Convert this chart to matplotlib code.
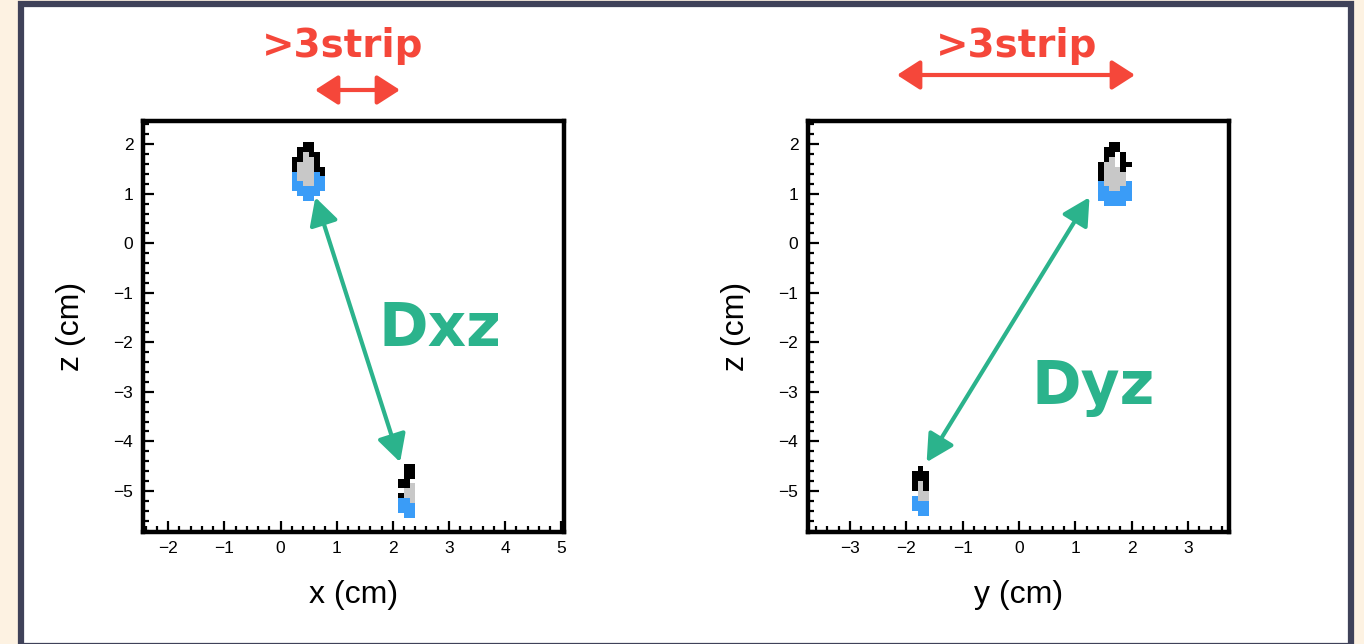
import numpy as np
import matplotlib
matplotlib.use("Agg")
import matplotlib.pyplot as plt
from matplotlib.colors import ListedColormap
from matplotlib.patches import FancyArrowPatch, Rectangle
from matplotlib.ticker import MultipleLocator

W, H = 1364, 644

# hit maps, 0.1 cm bins, rows listed from top (high z) down
# '#' = black, 'g' = gray, 'b' = blue, '.' = empty
xz_top_origin = (0.2, 2.05)
xz_top_rows = [
    "..##..",
    ".###..",
    ".#g##.",
    "##gg#.",
    "#ggg#.",
    "#ggg##",
    "bgggb#",
    "bgggbb",
    "bbggbb",
    "bbbbbb",
    ".bbbb.",
    "..bb..",
]
xz_bot_origin = (2.1, -4.45)
xz_bot_rows = [
    ".##",
    ".##",
    ".##",
    "##.",
    "##g",
    ".gg",
    "#gg",
    "bbg",
    "bbb",
    "bbb",
    ".bb",
]
yz_top_origin = (1.4, 2.05)
yz_top_rows = [
    "..##..",
    ".###..",
    ".##.#.",
    ".#g.#.",
    "#gg.##",
    "#ggg#.",
    "#gggg.",
    "#gggg.",
    "bggggb",
    "bbggbb",
    "bbbbbb",
    "bbbbbb",
    ".bbbb.",
]
yz_bot_origin = (-1.9, -4.5)
yz_bot_rows = [
    ".#.",
    "###",
    "###",
    "#g#",
    "#g#",
    ".gg",
    "bgg",
    "bbb",
    "bbb",
    ".bb",
]
bin_size = 0.1

# arrow end points in data coordinates
dxz_arrow = [(0.62, 0.93), (2.13, -4.42)]
dyz_arrow = [(1.25, 0.93), (-1.64, -4.42)]

RED = "#f5473a"
GREEN = "#2bb38c"
NAVY = "#3f4259"
levels = {"b": 1, "g": 2, "#": 3}
cmap = ListedColormap(["#3a9cf7", "#c8c8c8", "#000000"])


def fx(px):
    return px / W


def fy(py):
    return 1 - py / H


def draw_hits(ax, origin, rows):
    x0, ztop = origin
    nrow, ncol = len(rows), len(rows[0])
    vals = np.full((nrow, ncol), np.nan)
    for i, r in enumerate(rows):
        for j, c in enumerate(r):
            if c in levels:
                vals[i, j] = levels[c]
    xe = x0 + bin_size * np.arange(ncol + 1)
    ze = ztop - bin_size * np.arange(nrow + 1)
    ax.pcolormesh(xe, ze, np.ma.masked_invalid(vals), cmap=cmap, vmin=0.5, vmax=3.5)


def style_axes(ax, xlim, ylim, xlabel):
    ax.set_xlim(*xlim)
    ax.set_ylim(*ylim)
    for s in ax.spines.values():
        s.set_linewidth(3.2)
    ax.xaxis.set_major_locator(MultipleLocator(1))
    ax.xaxis.set_minor_locator(MultipleLocator(0.2))
    ax.yaxis.set_major_locator(MultipleLocator(1))
    ax.yaxis.set_minor_locator(MultipleLocator(0.2))
    ax.tick_params(which="both", direction="in", top=False, right=False, width=1.6,
                   labelsize=12.5, pad=7)
    ax.tick_params(which="major", length=8)
    ax.tick_params(which="minor", length=4.5)
    for lab in ax.get_xticklabels() + ax.get_yticklabels():
        lab.set_fontfamily("Liberation Sans")
    ax.set_xlabel(xlabel, fontsize=23, family="Liberation Sans", labelpad=17)
    ax.set_ylabel("z (cm)", fontsize=23, family="Liberation Sans", labelpad=20)


fig = plt.figure(figsize=(W / 100, H / 100), dpi=100)
fig.patch.set_facecolor("#fdf2e2")
fig.patches.append(Rectangle((fx(21), fy(646)), fx(1330), 642 / H,
                             transform=fig.transFigure, facecolor="white",
                             edgecolor=NAVY, linewidth=4.5, zorder=-5))

ax1 = fig.add_axes([fx(143), fy(531.5), fx(564 - 143), (531.5 - 120.5) / H])
ax2 = fig.add_axes([fx(808), fy(531.5), fx(1228.7 - 808), (531.5 - 120.5) / H])

draw_hits(ax1, xz_top_origin, xz_top_rows)
draw_hits(ax1, xz_bot_origin, xz_bot_rows)
draw_hits(ax2, yz_top_origin, yz_top_rows)
draw_hits(ax2, yz_bot_origin, yz_bot_rows)

style_axes(ax1, (-2.45, 5.05), (-5.82, 2.48), "x (cm)")
style_axes(ax2, (-3.745, 3.72), (-5.82, 2.48), "y (cm)")

for ax, pts in [(ax1, dxz_arrow), (ax2, dyz_arrow)]:
    ax.add_patch(FancyArrowPatch(pts[0], pts[1],
                                 arrowstyle="<|-|>,head_length=0.75,head_width=0.4",
                                 mutation_scale=22, linewidth=3, color=GREEN,
                                 shrinkA=0, shrinkB=0, zorder=5))

fig.text(fx(440), fy(330), "Dxz", ha="center", va="center",
         fontsize=43, fontweight="bold", family="DejaVu Sans", color=GREEN)
fig.text(fx(1093), fy(387), "Dyz", ha="center", va="center",
         fontsize=43, fontweight="bold", family="DejaVu Sans", color=GREEN)

fig.text(fx(343), fy(46), ">3strip", ha="center", va="center", fontsize=28,
         fontweight="bold", family="DejaVu Sans", color=RED)
fig.text(fx(1017), fy(46), ">3strip", ha="center", va="center", fontsize=28,
         fontweight="bold", family="DejaVu Sans", color=RED)

for x0, x1, y in [(315, 400, 90), (897, 1135, 75)]:
    fig.patches.append(FancyArrowPatch((fx(x0), fy(y)), (fx(x1), fy(y)),
                                       transform=fig.transFigure,
                                       arrowstyle="<|-|>,head_length=0.7,head_width=0.45",
                                       mutation_scale=20, linewidth=3, color=RED,
                                       shrinkA=0, shrinkB=0))

fig.savefig("out.png", dpi=100)
